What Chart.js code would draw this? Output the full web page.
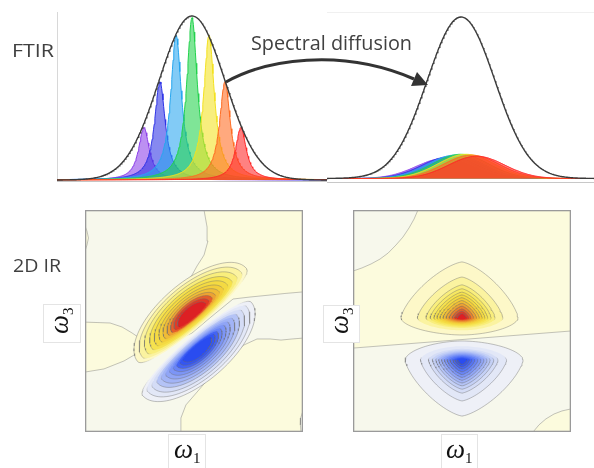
<!DOCTYPE html>
<html>
<head>
<meta charset="utf-8">
<title>Spectral diffusion</title>
<script src="https://cdn.jsdelivr.net/npm/chart.js@4.4.1/dist/chart.umd.min.js"></script>
<style>
  html, body { margin: 0; padding: 0; background: #fff; }
  body { position: relative; width: 594px; height: 468px; overflow: hidden; }
  canvas { position: absolute; }
  #overlay { position: absolute; left: 0; top: 0; }
  #overlay text { font-family: 'Open Sans', sans-serif; fill: #404040; }
  #overlay text.w { font-family: 'Liberation Serif', 'DejaVu Serif', serif; font-style: italic; fill: #111; }
  #overlay tspan.sub { font-style: normal; }
</style>
</head>
<body>
<canvas id="ftirBefore" width="277" height="174" style="left:50px; top:10px"></canvas>
<canvas id="ftirAfter" width="267" height="174" style="left:327px; top:10px"></canvas>
<canvas id="irEarly" width="218" height="222" style="left:85px; top:210px"></canvas>
<canvas id="irLate" width="218" height="222" style="left:353px; top:210px"></canvas>

<svg id="overlay" width="594" height="468">
  <text x="12" y="57" font-size="19" textLength="42" lengthAdjust="spacingAndGlyphs">FTIR</text>
  <text x="251" y="50" font-size="20" textLength="161" lengthAdjust="spacingAndGlyphs">Spectral diffusion</text>
  <path d="M226 82 C265 60 340 47 414 79" stroke="#333" stroke-width="3" fill="none"/>
  <polygon points="428,85 411,86 417,72" fill="#333"/>
  <text x="13" y="272" font-size="18" textLength="48" lengthAdjust="spacingAndGlyphs">2D IR</text>

  <rect x="43.5" y="304.5" width="37" height="38" fill="#fff" stroke="#e4e4e4"/>
  <text class="w" transform="translate(68,334) rotate(-90)" font-size="27">ω<tspan class="sub" font-size="15" dy="5">3</tspan></text>
  <rect x="168.5" y="434.5" width="37" height="40" fill="#fff" stroke="#e4e4e4"/>
  <text class="w" x="174" y="458" font-size="27">ω<tspan class="sub" font-size="15" dy="5">1</tspan></text>

  <rect x="323.5" y="305.5" width="36" height="37" fill="#fff" stroke="#e4e4e4"/>
  <text class="w" transform="translate(348,334) rotate(-90)" font-size="27">ω<tspan class="sub" font-size="15" dy="5">3</tspan></text>
  <rect x="441.5" y="434.5" width="36" height="40" fill="#fff" stroke="#e4e4e4"/>
  <text class="w" x="446" y="458" font-size="27">ω<tspan class="sub" font-size="15" dy="5">1</tspan></text>
</svg>

<script>
// ---------- FTIR row (relative frequency axis 0-100, intensity 0-1) ----------
const peakColors = ['#8b3fe8', '#2e33e6', '#27a6ef', '#22d24c', '#f3e11f', '#ff6b21', '#ff2626'];
// before: narrow lines that build the inhomogeneous band
const lineCentres = [32.2, 38.1, 44.1, 50, 56.3, 62.2, 68.1];
const lineHeights = [0.32, 0.6, 0.885, 0.99, 0.885, 0.6, 0.32];
const lineHalfWidth = 2.4;
// after: every sub-ensemble has spread over the band
const spreadCentres = [44, 46, 48, 50, 52, 54, 56];
const spreadHeights = [0.125, 0.135, 0.145, 0.15, 0.15, 0.145, 0.138];
const spreadWidth = 10.5;
// FTIR envelope, left and right panel
const envelopeCentre = [50, 50.2];
const envelopeWidth = [12.2, 12.7];

// ---------- 2D IR row (axis units 0-100 on both w1 and w3) ----------
// early waiting time: tilted (correlated) lobes, [positive, negative]
const earlyCore = [[49.1, 52.7], [51.4, 37.4]];
const earlyReach = [32.6, 14.5, 6.0];      // along diagonal, away from node, towards node
const earlyTilt = 40;
const earlyLevels = [1, 0.91, 0.82, 0.73, 0.65, 0.57, 0.50, 0.43, 0.37, 0.31, 0.25];
// late waiting time: upright lobes, reach = [left, right, up, down]
const lateCore = [[50.0, 51.4], [50.0, 32.4]];
const lateReach = [[28.0, 25.7, 25.2, 7.7], [26.1, 28.0, 8.6, 25.2]];
const lateLevels = [1, 0.73, 0.59, 0.52, 0.46, 0.41, 0.36, 0.31, 0.26, 0.21, 0.16, 0.12, 0.08];
const posColors = ['#fdf8c8', '#fbf3a0', '#f9ee7c', '#f7e862', '#f6e24e', '#f4da42', '#f3ce3a',
                   '#f0bc36', '#eda232', '#e9822e', '#e55e2a', '#e13a26', '#dd2024'];
const negColors = ['#eef0f7', '#e2e7f7', '#d4dcf6', '#c4d0f6', '#b4c3f6', '#a2b4f6', '#90a5f6',
                   '#7c95f6', '#6884f6', '#5574f5', '#4464f4', '#3456f2', '#2a4cf0'];
// zero-level lines of the weak background (positive side)
const earlyPosZone = [[54.6, 100], [100, 100], [100, 63.1], [91.7, 62.4], [84.9, 61.7], [75.7, 60.8],
  [67.9, 59.9], [57.3, 51.4], [49.1, 44.6], [39.0, 40.1], [29.8, 36.9], [24.8, 36.0], [17.9, 32.0],
  [8.7, 28.4], [0, 27.0], [0, 49.5], [11.5, 49.1], [17.0, 47.3], [21.6, 44.6], [24.3, 42.8],
  [29.8, 48.6], [39.0, 58.6], [46.3, 66.7], [49.1, 70.7], [51.4, 74.8], [54.6, 79.7], [56.4, 86.0],
  [56.0, 92.3]];
const earlyPosCorner = [[43.6, 0], [44.0, 6.3], [46.3, 12.2], [51.4, 18.0], [57.3, 24.8], [65.1, 33.3],
  [72.9, 39.2], [78.9, 41.9], [84.9, 41.9], [89.9, 41.4], [95.0, 41.9], [100, 42.3], [100, 0]];
const earlyPosEdge = [[0, 92.8], [0.9, 90.5], [1.6, 87.4], [0.9, 84.2], [0, 81.5]];
const earlyNegCorner = [[100, 9.5], [98.9, 6.3], [98.8, 3.2], [99.1, 0], [100, 0]];
const latePosZone = [[0, 72.5], [4.1, 73.9], [8.3, 75.7], [12.4, 77.9], [16.1, 80.6], [19.7, 84.2],
  [22.9, 87.8], [25.7, 91.9], [28.0, 95.9], [29.8, 100], [100, 100], [100, 45.5], [0, 37.8]];
const latePosCorner = [[82.6, 0], [85.3, 3.2], [88.5, 5.9], [92.2, 8.1], [95.9, 9.5], [100, 10.4], [100, 0]];

const yellowBg = '#fcfbdd';
const greyBg = '#f7f8ec';

// ---------- helpers ----------
const freq = [];
for (let i = 0; i <= 400; i++) freq.push(i * 0.25);
const lorentz = (x, c, h, g) => h * g * g / ((x - c) * (x - c) + g * g);
const gauss = (x, c, h, s) => h * Math.exp(-((x - c) * (x - c)) / (2 * s * s));
const curve = fn => freq.map(x => ({ x: x, y: fn(x) }));
const clamp = v => Math.max(0, Math.min(1, v));
function tint(hex, a) {
  const n = parseInt(hex.slice(1), 16);
  return `rgba(${n >> 16},${(n >> 8) & 255},${n & 255},${a})`;
}
const lineGrey = a => `rgba(110,110,110,${a})`;
const levelColor = (colors, lv, count) => colors[Math.round(lv / (count - 1) * (colors.length - 1))];

const axisLines = {
  id: 'axisLines',
  beforeDatasetsDraw(chart, args, opts) {
    const ctx = chart.ctx;
    ctx.save();
    ctx.lineWidth = 1;
    (opts.lines || []).forEach(([x1, y1, x2, y2, col]) => {
      ctx.strokeStyle = col;
      ctx.beginPath(); ctx.moveTo(x1, y1); ctx.lineTo(x2, y2); ctx.stroke();
    });
    ctx.restore();
  }
};

const boxFrame = {
  id: 'boxFrame',
  afterDatasetsDraw(chart) {
    const { ctx, chartArea: a } = chart;
    ctx.save();
    ctx.strokeStyle = '#9a9a9a';
    ctx.lineWidth = 1.3;
    ctx.strokeRect(a.left + 0.65, a.top + 0.65, a.width - 1.3, a.height - 1.3);
    ctx.restore();
  }
};

function baseOptions(xmin, xmax, ymin, ymax, lines) {
  return {
    responsive: false,
    animation: false,
    events: [],
    layout: { padding: 0 },
    elements: { point: { radius: 0 }, line: { tension: 0 } },
    plugins: { legend: { display: false }, tooltip: { enabled: false }, axisLines: { lines: lines || [] } },
    scales: {
      x: { type: 'linear', display: false, min: xmin, max: xmax },
      y: { type: 'linear', display: false, min: ymin, max: ymax }
    }
  };
}

// ---------- FTIR before ----------
const beforeSets = [{
  data: curve(x => gauss(x, envelopeCentre[0], 1, envelopeWidth[0])),
  borderColor: '#3a3a3a', borderWidth: 1.4, fill: false, order: 0
}];
lineCentres.forEach((c, i) => {
  beforeSets.push({
    data: curve(x => lorentz(x, c, lineHeights[i], lineHalfWidth)),
    borderColor: peakColors[i], borderWidth: 1,
    backgroundColor: tint(peakColors[i], 0.58), fill: 'origin', order: 10 - i
  });
});
new Chart(document.getElementById('ftirBefore'), {
  type: 'line',
  data: { datasets: beforeSets },
  options: baseOptions(-7 / 2.7, 100, -4 / 164, 170 / 164, [
    [7.5, 2, 7.5, 172, '#d8d8d8'],
    [7, 171.5, 277, 171.5, '#c4c4c4']
  ]),
  plugins: [axisLines]
});

// ---------- FTIR after ----------
const afterSets = [{
  data: curve(x => gauss(x, envelopeCentre[1], 1, envelopeWidth[1])),
  borderColor: '#3a3a3a', borderWidth: 1.4, fill: false, order: 0
}];
spreadCentres.forEach((c, i) => {
  afterSets.push({
    data: curve(x => gauss(x, c, spreadHeights[i], spreadWidth)),
    borderColor: peakColors[i], borderWidth: 1,
    backgroundColor: tint(peakColors[i], 0.6), fill: 'origin', order: 10 - i
  });
});
new Chart(document.getElementById('ftirAfter'), {
  type: 'line',
  data: { datasets: afterSets },
  options: baseOptions(0, 100, -5.5 / 161.5, 168.5 / 161.5, [
    [0, 2.5, 267, 2.5, '#f0f0f0'],
    [0, 172.5, 267, 172.5, '#c8c8c8']
  ]),
  plugins: [axisLines]
});

// ---------- 2D IR ----------
// fill and outline are separate datasets: a segment-styled line is split into pieces,
// which would break the 'shape' fill
function pushShape(sets, pts, fill, lineAlpha, fade) {
  sets.push({
    data: pts, fill: 'shape', backgroundColor: fill,
    borderColor: fade ? 'rgba(0,0,0,0)' : lineGrey(lineAlpha), borderWidth: !fade && lineAlpha > 0 ? 1 : 0,
    order: 1000 - sets.length
  });
  if (fade) {
    sets.push({
      data: pts, fill: false, borderColor: lineGrey(lineAlpha), borderWidth: 1,
      segment: { borderColor: c => lineGrey((lineAlpha * fade[c.p0DataIndex]).toFixed(3)) },
      order: 1000 - sets.length
    });
  }
}
function pushZone(sets, poly, fill, lineAlpha) {
  const pts = poly.map(p => ({ x: p[0], y: p[1] }));
  pts.push({ x: poly[0][0], y: poly[0][1] });
  pushShape(sets, pts, fill, lineAlpha);
}

function earlyLobe(sets, k) {
  const sign = k === 0 ? 1 : -1;
  const th = earlyTilt * Math.PI / 180;
  const u = [Math.cos(th), Math.sin(th)];
  const n = [-Math.sin(th) * sign, Math.cos(th) * sign];
  const [a, bFar, bNear] = earlyReach;
  const colors = k === 0 ? posColors : negColors;
  earlyLevels.forEach((s, lv) => {
    const pts = [], fade = [];
    for (let j = 0; j <= 96; j++) {
      const ph = j / 96 * 2 * Math.PI;
      const sn = Math.sin(ph);
      const ca = Math.cos(ph) * s * a, sb = sn * s * (sn >= 0 ? bFar : bNear);
      pts.push({ x: earlyCore[k][0] + ca * u[0] + sb * n[0], y: earlyCore[k][1] + ca * u[1] + sb * n[1] });
      fade.push(lv === 0 ? clamp((sn + 0.6) / 0.4) : clamp((sn + 0.3) / 0.45));
    }
    pushShape(sets, pts, levelColor(colors, lv, earlyLevels.length), 0.42, fade);
  });
}

function lateLobe(sets, k) {
  const sign = k === 0 ? 1 : -1;
  const [left, right, up, down] = lateReach[k];
  const colors = k === 0 ? posColors : negColors;
  lateLevels.forEach((s, lv) => {
    const pts = [], fade = [];
    for (let j = 0; j <= 120; j++) {
      const ph = j / 120 * 2 * Math.PI;
      const c = Math.cos(ph), sn = Math.sin(ph);
      const away = sign * sn >= 0;
      const e = 2 / (away ? 1.4 : 1.8);
      const dx = Math.sign(c) * Math.pow(Math.abs(c), e) * (c >= 0 ? right : left);
      const dy = Math.sign(sn) * Math.pow(Math.abs(sn), e) * (sn >= 0 ? up : down);
      pts.push({ x: lateCore[k][0] + s * dx, y: lateCore[k][1] + s * dy });
      fade.push(lv === 0 ? 1 : clamp((sign * sn + 0.3) / 0.4));
    }
    pushShape(sets, pts, levelColor(colors, lv, lateLevels.length), 0.42, fade);
  });
}

const earlySets = [];
pushZone(earlySets, [[0, 0], [100, 0], [100, 100], [0, 100]], greyBg, 0);
pushZone(earlySets, earlyPosZone, yellowBg, 0.4);
pushZone(earlySets, earlyPosCorner, yellowBg, 0.4);
pushZone(earlySets, earlyPosEdge, yellowBg, 0.4);
pushZone(earlySets, earlyNegCorner, greyBg, 0.4);
earlyLobe(earlySets, 0);
earlyLobe(earlySets, 1);
new Chart(document.getElementById('irEarly'), {
  type: 'line',
  data: { datasets: earlySets },
  options: baseOptions(0, 100, 0, 100),
  plugins: [boxFrame]
});

const lateSets = [];
pushZone(lateSets, [[0, 0], [100, 0], [100, 100], [0, 100]], greyBg, 0);
pushZone(lateSets, latePosZone, yellowBg, 0.4);
pushZone(lateSets, latePosCorner, yellowBg, 0.4);
lateLobe(lateSets, 0);
lateLobe(lateSets, 1);
new Chart(document.getElementById('irLate'), {
  type: 'line',
  data: { datasets: lateSets },
  options: baseOptions(0, 100, 0, 100),
  plugins: [boxFrame]
});
</script>
</body>
</html>
